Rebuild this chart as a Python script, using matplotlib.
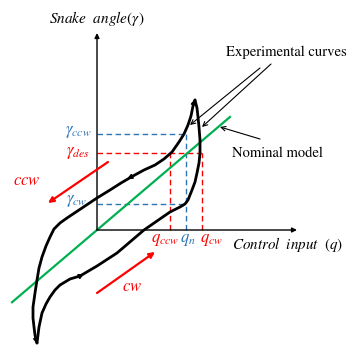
import matplotlib
matplotlib.use("Agg")
import matplotlib.pyplot as plt

plt.rcParams['mathtext.fontset'] = 'stix'

# Characteristic levels (schematic units, origin at axes corner)
gamma_ccw, gamma_des, gamma_cw = 96, 77, 26
q_ccw, q_n, q_cw = 73, 89, 105
nominal_slope = 0.85
nominal_x = [-85, 133]

# Experimental hysteresis curve: upper (ccw) branch, from top tip to bottom tip
upper_x = [98, 96, 94, 91, 87, 82, 75, 67, 58, 47, 36, 24, 13, 0, -15, -30, -37, -43, -47, -51, -55, -58, -60, -62, -64, -64, -63, -62, -60]
upper_y = [130, 124, 114, 105, 96, 88, 78, 71, 65, 60, 54, 47, 40, 32, 22, 12, 7, 1, -7, -16, -27, -38, -50, -63, -77, -88, -97, -105, -113]
# lower (cw) branch, from bottom tip to top tip
lower_x = [-60, -59, -58, -55, -51, -47, -42, -37, -27, -17, 0, 20, 47, 60, 73, 83, 88, 91, 95, 98, 100, 102, 103, 103, 102, 101, 100, 98]
lower_y = [-113, -105, -97, -83, -74, -67, -60, -55, -49, -46, -36, -23, 0, 9, 18, 23, 26, 30, 40, 48, 57, 67, 77, 90, 103, 113, 122, 130]

blue = '#2E75B6'
red = '#FF0000'
green = '#00B050'

fig = plt.figure(figsize=(3.57, 3.57), dpi=100)
ax = fig.add_axes([0, 0, 1, 1])
ax.set_xlim(-97, 260)
ax.set_ylim(-127, 230)
ax.axis('off')

# axes arrows
ax.annotate('', xy=(0, 197), xytext=(0, 0),
            arrowprops=dict(arrowstyle='-|>', color='black', lw=1.0, mutation_scale=7, shrinkA=0, shrinkB=0))
ax.annotate('', xy=(200, 0), xytext=(0, 0),
            arrowprops=dict(arrowstyle='-|>', color='black', lw=1.0, mutation_scale=7, shrinkA=0, shrinkB=0))

dash = (0, (4, 2.5))
# blue dashed
ax.plot([0, q_n], [gamma_ccw, gamma_ccw], color=blue, lw=1.0, ls=dash)
ax.plot([0, q_n], [gamma_cw, gamma_cw], color=blue, lw=1.0, ls=dash)
ax.plot([q_n, q_n], [0, gamma_ccw], color=blue, lw=1.0, ls=dash)
# red dashed
ax.plot([0, q_cw], [gamma_des, gamma_des], color=red, lw=1.0, ls=dash)
ax.plot([q_ccw, q_ccw], [0, gamma_des], color=red, lw=1.0, ls=dash)
ax.plot([q_cw, q_cw], [0, gamma_des], color=red, lw=1.0, ls=dash)

# nominal model
ax.plot(nominal_x, [nominal_slope * v for v in nominal_x], color=green, lw=1.6)

# experimental curves
ax.plot(upper_x, upper_y, color='black', lw=2.0, solid_joinstyle='round', solid_capstyle='round')
ax.plot(lower_x, lower_y, color='black', lw=2.0, solid_joinstyle='round', solid_capstyle='round')

def head(x0, y0, x1, y1):
    ax.annotate('', xy=(x1, y1), xytext=(x0, y0),
                arrowprops=dict(arrowstyle='-|>', color='black', lw=1.2, mutation_scale=7, shrinkA=0, shrinkB=0))

head(upper_x[10], upper_y[10], 30, 51)
head(lower_x[9], lower_y[9], -13, -44)
head(upper_x[1], upper_y[1], 98, 131)
head(upper_x[-2], upper_y[-2], -60, -114)

# annotation arrows
thin = dict(arrowstyle='->', color='black', lw=0.8, shrinkA=0, shrinkB=0, mutation_scale=8)
ax.annotate('', xy=(93, 105), xytext=(163, 162), arrowprops=thin)
ax.annotate('', xy=(105, 103), xytext=(174, 166), arrowprops=thin)
ax.annotate('', xy=(123, 103), xytext=(163, 91), arrowprops=thin)

ax.text(189, 178, 'Experimental curves', family='STIXGeneral', fontsize=10.5, ha='center', va='center')
ax.text(180, 77, 'Nominal model', family='STIXGeneral', fontsize=10.5, ha='center', va='center')

# red direction arrows
ax.annotate('', xy=(-49, 27), xytext=(11, 68),
            arrowprops=dict(arrowstyle='-|>', color=red, lw=1.6, mutation_scale=8, shrinkA=0, shrinkB=0))
ax.annotate('', xy=(58, -22), xytext=(0, -63),
            arrowprops=dict(arrowstyle='-|>', color=red, lw=1.6, mutation_scale=8, shrinkA=0, shrinkB=0))
ax.text(-70, 50, r'$ccw$', color=red, fontsize=12, ha='center', va='center')
ax.text(35, -56, r'$cw$', color=red, fontsize=12, ha='center', va='center')

# axis titles
ax.text(0, 212, r'$Snake\ \ angle(\gamma)$', fontsize=11, ha='center', va='center')
ax.text(190, -14, r'$Control\ \ input\ \ (q)$', fontsize=10.8, ha='center', va='center')

# tick-like labels
ax.text(-19, 99, r'$\gamma_{ccw}$', color=blue, fontsize=12, ha='center', va='center')
ax.text(-19, 78, r'$\gamma_{des}$', color=red, fontsize=12, ha='center', va='center')
ax.text(-20, 30, r'$\gamma_{cw}$', color=blue, fontsize=12, ha='center', va='center')
ax.text(68, -9, r'$q_{ccw}$', color=red, fontsize=12, ha='center', va='center')
ax.text(91, -9, r'$q_{n}$', color=blue, fontsize=12, ha='center', va='center')
ax.text(115, -9, r'$q_{cw}$', color=red, fontsize=12, ha='center', va='center')

fig.savefig('out.png', dpi=100)
